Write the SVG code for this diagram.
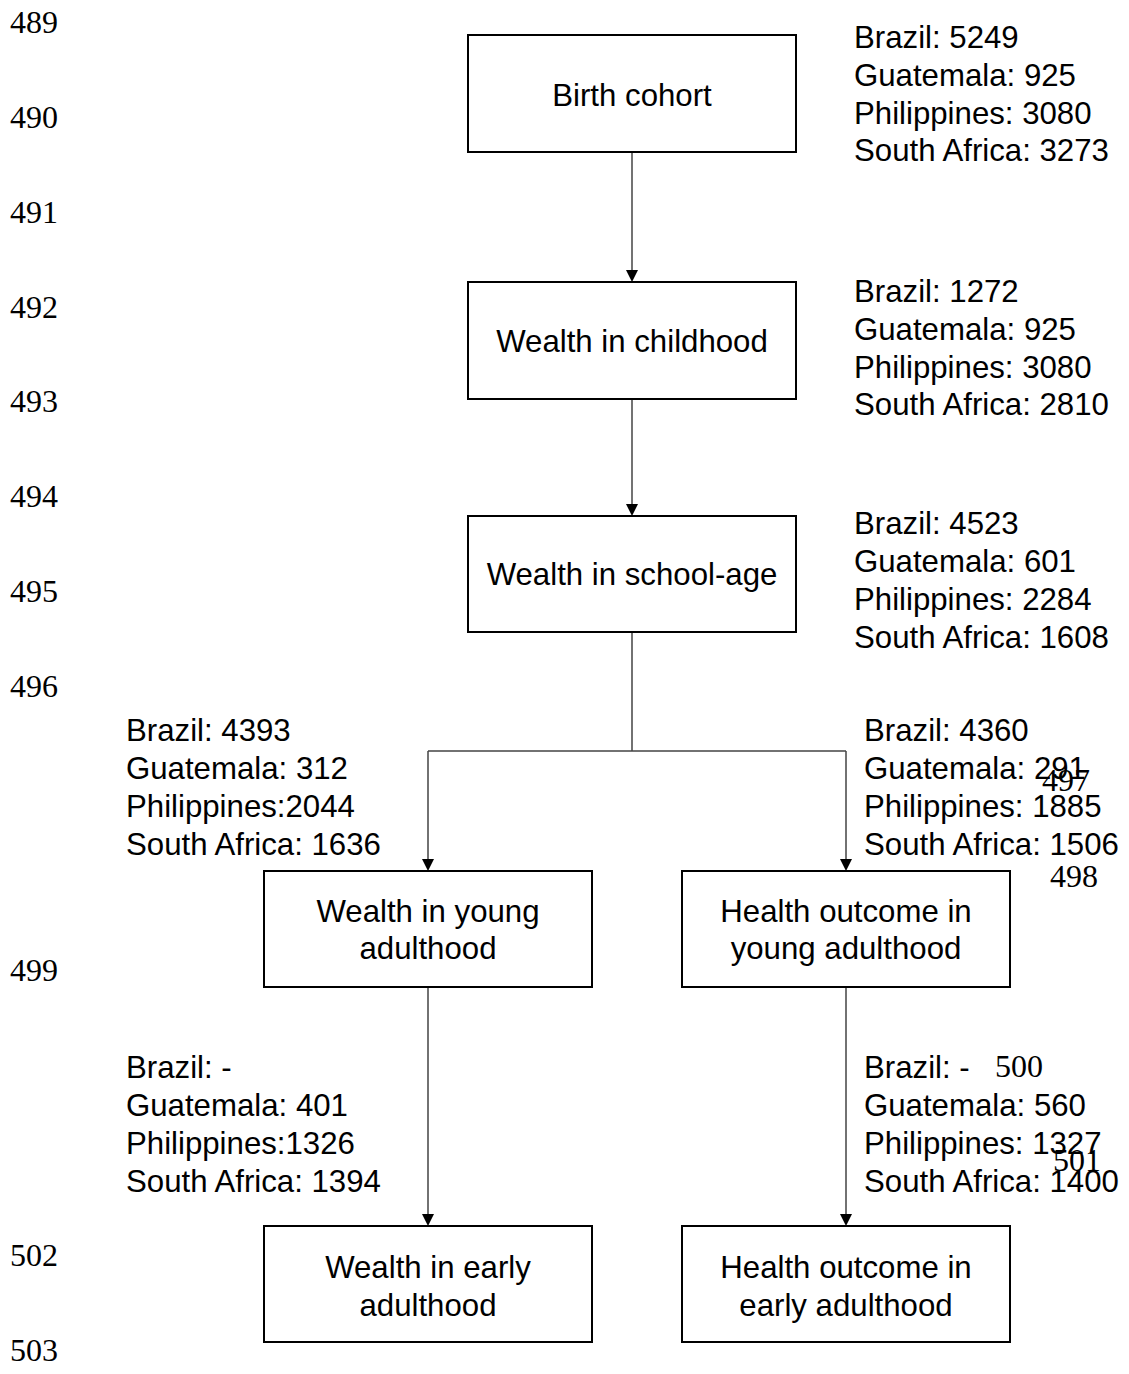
<svg xmlns="http://www.w3.org/2000/svg" width="1129" height="1374" viewBox="0 0 1129 1374">
<style>
.box{fill:#fff;stroke:#000;stroke-width:2}
.t{font-family:"Liberation Sans",Arial,sans-serif;font-size:31.2px;fill:#000}
.c{text-anchor:middle}
.ln{font-family:"Liberation Serif","Times New Roman",serif;font-size:32px;fill:#000}
.conn{fill:none;stroke:#444;stroke-width:1.5}
</style>
<rect width="1129" height="1374" fill="#fff"/>
<g id="line-numbers" class="ln">
<text x="10" y="33">489</text>
<text x="10" y="128">490</text>
<text x="10" y="223">491</text>
<text x="10" y="318">492</text>
<text x="10" y="412">493</text>
<text x="10" y="507">494</text>
<text x="10" y="602">495</text>
<text x="10" y="697">496</text>
<text x="10" y="981">499</text>
<text x="10" y="1266">502</text>
<text x="10" y="1361">503</text>
</g>
<g id="connectors">
<path class="conn" d="M632,152 V270"/>
<path d="M626,270 L638,270 L632,282 Z" fill="#000"/>
<path class="conn" d="M632,399 V504"/>
<path d="M626,504 L638,504 L632,516 Z" fill="#000"/>
<path class="conn" d="M632,632 V751 M428,751 H846 M428,751 V859 M846,751 V859"/>
<path d="M422,859 L434,859 L428,871 Z" fill="#000"/>
<path d="M840,859 L852,859 L846,871 Z" fill="#000"/>
<path class="conn" d="M428,987 V1214 M846,987 V1214"/>
<path d="M422,1214 L434,1214 L428,1226 Z" fill="#000"/>
<path d="M840,1214 L852,1214 L846,1226 Z" fill="#000"/>
</g>
<g id="birth-cohort">
<rect class="box" x="468" y="35" width="328" height="117"/>
<text class="t c" x="632" y="106">Birth cohort</text>
</g>
<g id="birth-cohort-counts" class="t">
<text x="854" y="48">Brazil: 5249</text>
<text x="854" y="86">Guatemala: 925</text>
<text x="854" y="124">Philippines: 3080</text>
<text x="854" y="161">South Africa: 3273</text>
</g>
<g id="wealth-childhood">
<rect class="box" x="468" y="282" width="328" height="117"/>
<text class="t c" x="632" y="352">Wealth in childhood</text>
</g>
<g id="wealth-childhood-counts" class="t">
<text x="854" y="302">Brazil: 1272</text>
<text x="854" y="340">Guatemala: 925</text>
<text x="854" y="378">Philippines: 3080</text>
<text x="854" y="415">South Africa: 2810</text>
</g>
<g id="wealth-school-age">
<rect class="box" x="468" y="516" width="328" height="116"/>
<text class="t c" x="632" y="585">Wealth in school-age</text>
</g>
<g id="wealth-school-age-counts" class="t">
<text x="854" y="534">Brazil: 4523</text>
<text x="854" y="572">Guatemala: 601</text>
<text x="854" y="610">Philippines: 2284</text>
<text x="854" y="648">South Africa: 1608</text>
</g>
<g id="wealth-young-adulthood-counts" class="t">
<text x="126" y="741">Brazil: 4393</text>
<text x="126" y="779">Guatemala: 312</text>
<text x="126" y="817">Philippines:2044</text>
<text x="126" y="855">South Africa: 1636</text>
</g>
<g id="health-young-adulthood-counts" class="t">
<text x="864" y="741">Brazil: 4360</text>
<text x="864" y="779">Guatemala: 291</text>
<text x="864" y="817">Philippines: 1885</text>
<text x="864" y="855">South Africa: 1506</text>
</g>
<g id="wealth-young-adulthood">
<rect class="box" x="264" y="871" width="328" height="116"/>
<text class="t c" x="428" y="922">Wealth in young</text>
<text class="t c" x="428" y="959">adulthood</text>
</g>
<g id="health-young-adulthood">
<rect class="box" x="682" y="871" width="328" height="116"/>
<text class="t c" x="846" y="922">Health outcome in</text>
<text class="t c" x="846" y="959">young adulthood</text>
</g>
<g id="wealth-early-adulthood-counts" class="t">
<text x="126" y="1078">Brazil: -</text>
<text x="126" y="1116">Guatemala: 401</text>
<text x="126" y="1154">Philippines:1326</text>
<text x="126" y="1192">South Africa: 1394</text>
</g>
<g id="health-early-adulthood-counts" class="t">
<text x="864" y="1078">Brazil: -</text>
<text x="864" y="1116">Guatemala: 560</text>
<text x="864" y="1154">Philippines: 1327</text>
<text x="864" y="1192">South Africa: 1400</text>
</g>
<g id="wealth-early-adulthood">
<rect class="box" x="264" y="1226" width="328" height="116"/>
<text class="t c" x="428" y="1278">Wealth in early</text>
<text class="t c" x="428" y="1316">adulthood</text>
</g>
<g id="health-early-adulthood">
<rect class="box" x="682" y="1226" width="328" height="116"/>
<text class="t c" x="846" y="1278">Health outcome in</text>
<text class="t c" x="846" y="1316">early adulthood</text>
</g>
<g id="line-numbers-overlay" class="ln">
<text x="1042" y="791">497</text>
<text x="1050" y="887">498</text>
<text x="995" y="1077">500</text>
<text x="1053" y="1171">501</text>
</g>
</svg>
